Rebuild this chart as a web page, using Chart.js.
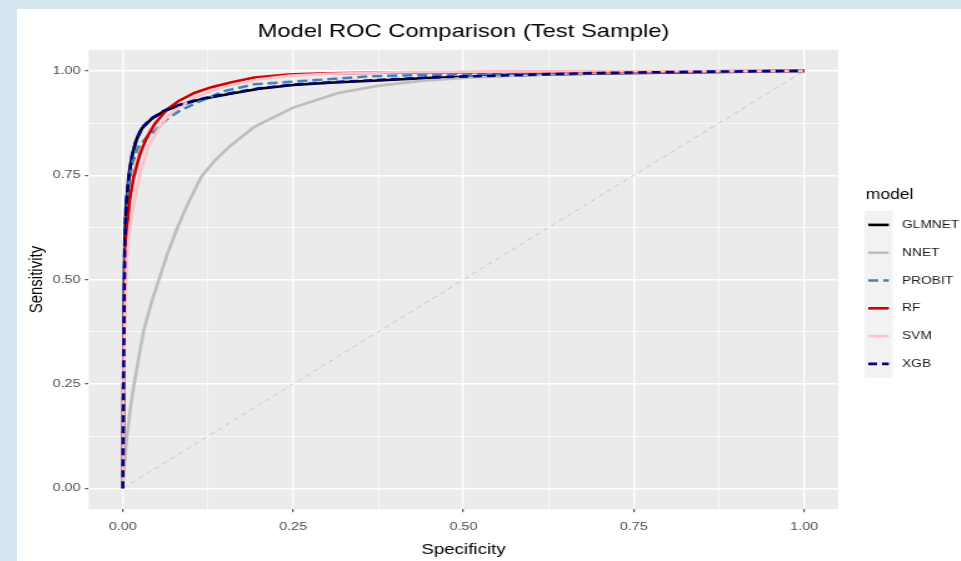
<!DOCTYPE html>
<html>
<head>
<meta charset="utf-8">
<script src="https://cdn.jsdelivr.net/npm/chart.js@4.4.1/dist/chart.umd.min.js"></script>
<style>
    html, body { margin: 0; padding: 0; background: #d6e6f0; width: 961px; height: 561px; overflow: hidden; }
    #box { position: absolute; left: 17px; top: 9px; width: 944px; height: 552px; background: #ffffff; overflow: hidden; }
    /* the source screenshot is stretched sideways, so the canvas is too */
    #wrap { width: 755px; height: 552px; transform: scaleX(1.25); transform-origin: 0 0; }
</style>
</head>
<body>
<div id="box"><div id="wrap"><canvas id="roc" width="755" height="552"></canvas></div></div>
<script>
// ROC points (x = 1 - specificity, y = sensitivity)
const models = ['GLMNET', 'NNET', 'PROBIT', 'RF', 'SVM', 'XGB'];

const glmnetX = [0, 0.001, 0.002, 0.003, 0.005, 0.009, 0.014, 0.020, 0.028, 0.042, 0.06, 0.082, 0.105, 0.13, 0.16, 0.20, 0.25, 0.31, 0.374, 0.447, 0.51, 0.6, 0.7, 0.85, 1];
const glmnetY = [0, 0.25, 0.45, 0.60, 0.68, 0.75, 0.80, 0.835, 0.862, 0.885, 0.903, 0.917, 0.928, 0.937, 0.946, 0.957, 0.966, 0.972, 0.977, 0.983, 0.986, 0.99, 0.994, 0.997, 1];

const nnetX = [0, 0.002, 0.006, 0.011, 0.016, 0.023, 0.031, 0.042, 0.053, 0.065, 0.079, 0.095, 0.115, 0.135, 0.156, 0.193, 0.25, 0.316, 0.374, 0.437, 0.5, 0.6, 0.7, 0.85, 1];
const nnetY = [0, 0.05, 0.124, 0.19, 0.244, 0.31, 0.38, 0.445, 0.5, 0.56, 0.62, 0.68, 0.746, 0.785, 0.818, 0.866, 0.912, 0.947, 0.964, 0.976, 0.983, 0.99, 0.995, 0.998, 1];

const probitX = [0, 0.001, 0.002, 0.004, 0.008, 0.014, 0.022, 0.032, 0.047, 0.065, 0.082, 0.111, 0.15, 0.193, 0.276, 0.364, 0.437, 0.52, 0.65, 0.8, 1];
const probitY = [0, 0.3, 0.5, 0.63, 0.72, 0.78, 0.815, 0.835, 0.856, 0.885, 0.903, 0.926, 0.952, 0.968, 0.977, 0.987, 0.99, 0.992, 0.995, 0.998, 1];

const rfX = [0, 0.001, 0.002, 0.003, 0.006, 0.010, 0.016, 0.025, 0.035, 0.047, 0.065, 0.082, 0.105, 0.13, 0.16, 0.193, 0.243, 0.3, 0.4, 0.55, 0.7, 0.85, 1];
const rfY = [0, 0.2, 0.38, 0.5, 0.62, 0.69, 0.746, 0.80, 0.84, 0.873, 0.908, 0.928, 0.947, 0.961, 0.973, 0.984, 0.991, 0.994, 0.996, 0.997, 0.998, 0.999, 1];

const svmX = [0, 0.001, 0.003, 0.006, 0.010, 0.018, 0.028, 0.038, 0.05, 0.065, 0.082, 0.105, 0.13, 0.16, 0.2, 0.243, 0.3, 0.41, 0.55, 0.7, 0.85, 1];
const svmY = [0, 0.2, 0.42, 0.55, 0.62, 0.70, 0.77, 0.82, 0.855, 0.89, 0.912, 0.935, 0.953, 0.967, 0.98, 0.988, 0.993, 0.997, 0.998, 0.999, 0.999, 1];

const xgbX = [0, 0.001, 0.002, 0.003, 0.005, 0.009, 0.014, 0.020, 0.028, 0.042, 0.06, 0.082, 0.105, 0.13, 0.16, 0.20, 0.25, 0.31, 0.374, 0.447, 0.51, 0.6, 0.7, 0.85, 1];
const xgbY = [0, 0.24, 0.44, 0.60, 0.68, 0.75, 0.80, 0.836, 0.864, 0.886, 0.904, 0.918, 0.929, 0.938, 0.947, 0.958, 0.967, 0.973, 0.978, 0.984, 0.987, 0.991, 0.995, 0.998, 1];

const diagX = [0, 1];
const diagY = [0, 1];

const majorTicks = [0, 0.25, 0.5, 0.75, 1];
const minorTicks = [0.125, 0.375, 0.625, 0.875];
const tickLabels = ['0.00', '0.25', '0.50', '0.75', '1.00'];

const FONT = '"Liberation Sans", Arial, sans-serif';

const toPoints = (xs, ys) => xs.map((x, i) => ({x: x, y: ys[i]}));

const lineSet = (label, xs, ys, color, dash) => ({
    label: label,
    data: toPoints(xs, ys),
    borderColor: color,
    backgroundColor: color,
    borderWidth: 2.6,
    borderDash: dash,
    showLine: true,
    pointRadius: 0,
    tension: 0,
    fill: false
});

const datasets = [
    {
        label: 'diag',
        data: toPoints(diagX, diagY),
        borderColor: '#c4c4c4',
        borderWidth: 1,
        borderDash: [4, 4],
        showLine: true,
        pointRadius: 0,
        inLegend: false
    },
    lineSet(models[0], glmnetX, glmnetY, '#000000', []),
    lineSet(models[1], nnetX, nnetY, '#bebebe', []),
    lineSet(models[2], probitX, probitY, '#4682b4', [8, 4]),
    lineSet(models[3], rfX, rfY, '#cd0000', []),
    lineSet(models[4], svmX, svmY, '#ffc0cb', []),
    lineSet(models[5], xgbX, xgbY, '#000080', [7, 4])
];
// later models are painted on top, like ggplot
datasets.forEach((d, i) => { d.order = datasets.length - i; });

const isMajor = v => majorTicks.some(m => Math.abs(m - v) < 1e-9);
const allTicks = majorTicks.concat(minorTicks).sort((a, b) => a - b);

const panelBg = {
    id: 'panelBg',
    beforeDraw(chart) {
        const a = chart.chartArea;
        const ctx = chart.ctx;
        ctx.save();
        ctx.fillStyle = '#ebebeb';
        ctx.fillRect(a.left, a.top, a.right - a.left, a.bottom - a.top);
        ctx.restore();
    }
};

// title centred over the panel, and a ggplot-like legend on the right
const ggDecor = {
    id: 'ggDecor',
    afterDraw(chart) {
        const ctx = chart.ctx;
        const a = chart.chartArea;
        ctx.save();
        ctx.fillStyle = '#000000';
        ctx.textBaseline = 'middle';
        ctx.textAlign = 'center';
        ctx.font = '19px ' + FONT;
        ctx.fillText('Model ROC Comparison (Test Sample)', (a.left + a.right) / 2, 22.5);

        const sets = chart.data.datasets.filter(d => d.inLegend !== false);
        const left = 678, top = 202, rowH = 27.8;
        ctx.textAlign = 'left';
        ctx.font = '14px ' + FONT;
        ctx.fillText('model', left + 1, 186);
        ctx.fillStyle = '#f2f2f2';
        ctx.fillRect(left, top, 22.5, rowH * sets.length);
        sets.forEach((d, i) => {
            const cy = top + rowH * i + rowH / 2;
            ctx.strokeStyle = d.borderColor;
            ctx.lineWidth = 2.6;
            ctx.setLineDash(d.borderDash || []);
            ctx.beginPath();
            ctx.moveTo(left + 3, cy);
            ctx.lineTo(left + 19.5, cy);
            ctx.stroke();
            ctx.setLineDash([]);
            ctx.fillStyle = '#1a1a1a';
            ctx.font = '11px ' + FONT;
            ctx.fillText(d.label, left + 30, cy);
        });
        ctx.restore();
    }
};

const axisOpts = (title, tickPad, titlePad) => ({
    type: 'linear',
    min: -0.05,
    max: 1.05,
    afterBuildTicks: (scale) => {
        scale.ticks = allTicks.map(v => ({value: v}));
    },
    ticks: {
        autoSkip: false,
        maxRotation: 0,
        padding: tickPad,
        color: '#4d4d4d',
        font: {family: FONT, size: 11.5},
        callback: (v) => isMajor(v) ? tickLabels[majorTicks.findIndex(m => Math.abs(m - v) < 1e-9)] : ''
    },
    grid: {
        color: '#ffffff',
        lineWidth: (c) => isMajor(c.tick.value) ? 1.4 : 0.7,
        drawTicks: true,
        tickLength: 3,
        tickWidth: 1,
        tickColor: (c) => isMajor(c.tick.value) ? '#333333' : 'rgba(0,0,0,0)'
    },
    border: {display: false},
    title: {
        display: true,
        text: title,
        color: '#000000',
        font: {family: FONT, size: 15},
        padding: titlePad
    }
});

new Chart(document.getElementById('roc'), {
    type: 'scatter',
    data: {datasets: datasets},
    plugins: [panelBg, ggDecor],
    options: {
        responsive: false,
        animation: false,
        layout: {padding: {left: 1, right: 98, top: 41, bottom: 0}},
        plugins: {
            legend: {display: false},
            tooltip: {enabled: false},
            title: {display: false}
        },
        scales: {
            x: axisOpts('Specificity', 7.5, {top: 0, bottom: 2}),
            y: axisOpts('Sensitivity', 3.5, {top: 6, bottom: 0})
        }
    }
});
</script>
</body>
</html>
